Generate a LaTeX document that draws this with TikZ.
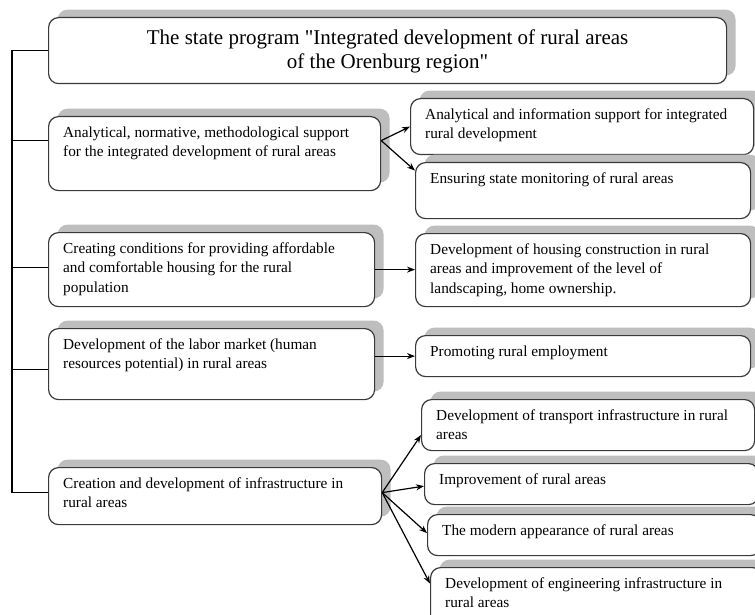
\documentclass[tikz,border=0pt]{standalone}
\usepackage{fontspec}
\setmainfont{Liberation Serif}[Ligatures=TeXOff]
\usetikzlibrary{shadows,arrows.meta}
\definecolor{shade}{HTML}{BEBEBE}
\definecolor{edge}{HTML}{3A3A3A}
\newcommand\bx[6]{%
  \node[box, minimum width=#4pt, minimum height=#5pt] (#1) at (#2,#3) {};
  \node[txt] (#1t) at ([xshift=15pt,yshift=-7.4pt]#1.north west) {\strut #6};}
\begin{document}
\begin{tikzpicture}[x=1pt,y=-1pt,
  box/.style={draw=edge, line width=1.2pt, rounded corners=10pt, fill=white,
    anchor=north west, inner sep=0pt,
    drop shadow={shadow xshift=9pt, shadow yshift=8pt, fill=shade, opacity=1}},
  txt/.style={anchor=north west, inner sep=0pt, align=left,
    font=\fontsize{15.3}{19.5}\selectfont},
  link/.style={line width=1.2pt},
  arr/.style={line width=1.2pt, -{Stealth[length=8pt,width=6pt]}}]
\fill[white] (0,0) rectangle (755,615);
\useasboundingbox (0,0) rectangle (755,615);
\clip (0,0) rectangle (755,615);

% title
\node[box, minimum width=678pt, minimum height=66pt] (title) at (48,17) {};
\node[font=\fontsize{21}{24}\selectfont, align=center, inner sep=0pt] (titlet) at ([yshift=-1pt]title.center)
  {The state program "Integrated development of rural areas\\of the Orenburg region"};

% left column
\bx{b1}{48}{116}{332}{74}{Analytical, normative, methodological support\\for the integrated development of rural areas}
\bx{b2}{48}{232}{326}{74}{Creating conditions for providing affordable\\and comfortable housing for the rural\\population}
\bx{b3}{48}{328}{326}{71}{Development of the labor market (human\\resources potential) in rural areas}
\bx{b5}{48}{467}{333}{57}{Creation and development of infrastructure in\\rural areas}

% right column
\bx{r1}{410}{98}{343}{56}{Analytical and information support for integrated\\rural development}
\bx{r2}{415}{162}{335}{56}{Ensuring state monitoring of rural areas}
\bx{r3}{415}{233}{335}{73}{Development of housing construction in rural\\areas and improvement of the level of\\landscaping, home ownership.}
\bx{r4}{415}{335}{335}{41}{Promoting rural employment}
\bx{r5}{421}{399}{333}{51}{Development of transport infrastructure in rural\\areas}
\bx{r6}{424}{463}{334}{41}{Improvement of rural areas}
\bx{r7}{427}{514}{333}{41}{The modern appearance of rural areas}
\bx{r8}{430}{567}{332}{58}{Development of engineering infrastructure in\\rural areas}

% trunk
\coordinate (trunk) at (12,48);
\draw[link] (title.west) -- (title.west -| trunk) |- ([yshift=4pt]b5.west);
\draw[link] ([yshift=13pt]b1.west) -- ([yshift=13pt]b1.west -| trunk);
\draw[link] ([yshift=2pt]b2.west) -- ([yshift=2pt]b2.west -| trunk);
\draw[link] ([yshift=-5.5pt]b3.west) -- ([yshift=-5.5pt]b3.west -| trunk);

% arrows
\draw[arr] ([yshift=13pt]b1.east) -- (r1.west);
\draw[arr] ([yshift=13pt]b1.east) -- ([yshift=20pt]r2.west);
\draw[arr] (b2.east) -- (b2.east -| r3.west);
\draw[arr] (b3.east |- r4.west) -- (r4.west);
\draw[arr] ([yshift=3.5pt]b5.east) -- ([yshift=-10pt]r5.west);
\draw[arr] ([yshift=3.5pt]b5.east) -- ([yshift=-2pt]r6.west);
\draw[arr] ([yshift=3.5pt]b5.east) -- ([yshift=2pt]r7.west);
\draw[arr] ([yshift=3.5pt]b5.east) -- ([yshift=13pt]r8.west);
\end{tikzpicture}
\end{document}
